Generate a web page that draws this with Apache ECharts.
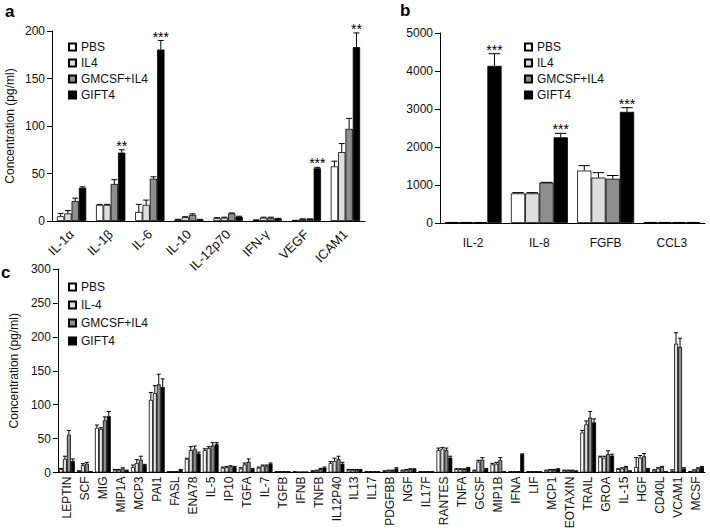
<!DOCTYPE html>
<html><head><meta charset="utf-8">
<script src="https://cdn.jsdelivr.net/npm/echarts@6/dist/echarts.min.js"></script>
<style>html,body{margin:0;padding:0;background:#fff}#c{width:710px;height:532px}</style>
</head><body><div id="c"></div><script>
// ---------- Panel a ----------
var catsA = ['IL-1\u03b1','IL-1\u03b2','IL-6','IL-10','IL-12p70','IFN-\u03b3','VEGF','ICAM1'];
var aPBS     = [5, 17, 9.5, 1.5, 3, 1, 0.5, 57.5];
var aPBSErr  = [3, 0.5, 8, 0.3, 0.5, 0.2, 0.2, 5.5];
var aIL4     = [8, 17, 17, 4, 3.5, 3.5, 2, 72.5];
var aIL4Err  = [3, 0.5, 5, 0.5, 0.5, 0.5, 0.3, 9];
var aGM      = [21, 39, 44.5, 6.5, 8, 3.5, 2, 97];
var aGMErr   = [3, 4.5, 2, 1, 0.5, 0.5, 0.3, 11];
var aGIFT    = [35, 72, 180.5, 1.5, 4.5, 2.5, 55.5, 183];
var aGIFTErr = [1, 3, 9.5, 0.3, 0.5, 0.3, 1, 15];
var aSig     = ['', '**', '***', '', '', '', '***', '**'];
var aTicks   = [0, 50, 100, 150, 200];

// ---------- Panel b ----------
var catsB = ['IL-2','IL-8','FGFB','CCL3'];
var bPBS     = [15, 780, 1380, 15];
var bPBSErr  = [0, 20, 130, 0];
var bIL4     = [15, 780, 1195, 15];
var bIL4Err  = [0, 20, 130, 0];
var bGM      = [15, 1065, 1165, 15];
var bGMErr   = [0, 5, 85, 0];
var bGIFT    = [4135, 2255, 2925, 15];
var bGIFTErr = [320, 105, 110, 0];
var bSig     = ['***', '***', '***', ''];
var bTicks   = [0, 1000, 2000, 3000, 4000, 5000];

// ---------- Panel c ----------
var catsC = ['LEPTIN','SCF','MIG','MIP1A','MCP3','PAI1','FASL','ENA78','IL-5','IP10','TGFA','IL-7','TGFB','IFNB','TNFB','IL12P40','IL13','IL17','PDGFBB','NGF','IL17F','RANTES','TNFA','GCSF','MIP1B','IFNA','LIF','MCP1','EOTAXIN','TRAIL','GROA','IL-15','HGF','CD40L','VCAM1','MCSF'];
var cPBS     = [5, 2, 66, 4, 8, 107, 1, 20, 33, 7, 6, 7, 1, 1, 2, 14, 4, 1, 2, 3, 1, 33, 5, 3, 12, 1, 1, 3, 3, 59, 23, 5, 8, 3, 2, 1];
var cPBSErr  = [1, 0.5, 4, 0.5, 3, 11, 0.2, 1, 2, 1, 1, 1, 0.2, 0.2, 0.5, 2, 0.5, 0.2, 0.5, 0.5, 0.2, 3, 0.5, 0.5, 1.5, 0.2, 0.2, 0.5, 0.5, 3, 1, 0.5, 14, 1, 2, 0.2];
var cIL4     = [20, 11, 64, 4, 14, 117, 1, 33, 36, 8, 12, 10, 1, 0.5, 3, 17, 4, 1, 3, 4, 1, 35, 5, 16, 13, 1, 1, 4, 3, 71, 22, 6, 22, 6, 190, 3];
var cIL4Err  = [4, 2, 2, 0.5, 5, 11, 0.2, 5, 2, 1, 2, 1, 0.2, 0.2, 0.5, 4, 0.5, 0.2, 0.5, 0.5, 0.2, 2, 0.5, 2, 2, 0.2, 0.2, 0.5, 0.5, 5, 2, 1, 3, 1, 16, 1];
var cGM      = [56, 13, 77, 6, 19, 130, 1, 35, 40, 9, 16, 10, 1, 0.5, 5, 20, 4, 1, 3, 5, 1, 33, 5, 19, 18, 1, 1, 4, 3, 81, 27, 8, 24, 8, 185, 6];
var cGMErr   = [6, 2, 5, 1, 5, 15, 0.2, 4, 4, 1, 4, 1, 0.2, 0.2, 1, 4, 0.5, 0.2, 0.5, 0.5, 0.2, 3, 0.5, 3, 4, 0.2, 0.2, 0.5, 0.5, 9, 5, 1, 4, 1, 13, 1];
var cGIFT    = [17, 1, 83, 3, 11, 126, 4, 28, 42, 8, 5, 13, 1, 0.5, 7, 13, 4, 1, 6, 5, 1, 22, 7, 5, 1, 27, 1, 5, 2, 74, 25, 2, 5, 1, 6, 8];
var cGIFTErr = [3, 0.2, 7, 0.5, 1, 12, 0.5, 2, 2, 1, 1, 1, 0.2, 0.2, 1, 2, 0.5, 0.2, 1, 0.5, 0.2, 2, 0.5, 1, 0.2, 0.5, 0.2, 0.5, 0.5, 5, 2, 0.5, 1, 0.2, 1, 1];
var cTicks   = [0, 50, 100, 150, 200, 250, 300];

var namesAB = ['PBS','IL4','GMCSF+IL4','GIFT4'];
var namesC  = ['PBS','IL-4','GMCSF+IL4','GIFT4'];
var fills   = ['#ffffff','#dedede','#8e8e8e','#000000'];
var FONT = 'Liberation Sans, Arial, Helvetica, sans-serif';

function errRender(k, n, gap) {
  return function (params, api) {
    var cat = api.value(0), v = api.value(1), e = api.value(2);
    var band = api.size([1, 0])[0];
    var bw = band * (1 - gap) / n;
    var base = api.coord([cat, v]);
    var top = api.coord([cat, v + e]);
    var x = base[0] + (k - (n - 1) / 2) * bw;
    var cap = Math.max(2, bw * 0.4);
    return { type: 'group', children: [
      { type: 'line', shape: { x1: x, y1: base[1], x2: x, y2: top[1] }, style: { stroke: '#000', lineWidth: 1 } },
      { type: 'line', shape: { x1: x - cap, y1: top[1], x2: x + cap, y2: top[1] }, style: { stroke: '#000', lineWidth: 1 } }
    ]};
  };
}
function sigRender(labels, n, gap) {
  return function (params, api) {
    var cat = api.value(0), y = api.value(1);
    var band = api.size([1, 0])[0];
    var bw = band * (1 - gap) / n;
    var p = api.coord([cat, y]);
    var x = p[0] + (n - 1 - (n - 1) / 2) * bw;
    return { type: 'text', style: { text: labels[params.dataIndex], x: x, y: p[1] + 3, align: 'center', verticalAlign: 'bottom', fill: '#000', fontSize: 14, fontFamily: FONT } };
  };
}

var series = [];
function addGroup(gi, names, vals, errs, sig, gap) {
  for (var k = 0; k < 4; k++) {
    series.push({ type: 'bar', name: names[k], xAxisIndex: gi, yAxisIndex: gi, data: vals[k],
      barGap: '0%', barCategoryGap: (gap * 100) + '%', silent: true,
      itemStyle: { color: fills[k], borderColor: '#000', borderWidth: 0.8 } });
  }
  for (var k2 = 0; k2 < 4; k2++) {
    var d = vals[k2].map(function (v, i) { return [i, v, errs[k2][i]]; });
    series.push({ type: 'custom', name: 'err' + gi + k2, xAxisIndex: gi, yAxisIndex: gi, silent: true, z: 5,
      renderItem: errRender(k2, 4, gap), data: d, encode: { x: 0, y: 1 } });
  }
  if (sig) {
    var labels = [], sd = [];
    sig.forEach(function (s, i) { if (s) { labels.push(s); sd.push([i, vals[3][i] + errs[3][i]]); } });
    series.push({ type: 'custom', name: 'sig' + gi, xAxisIndex: gi, yAxisIndex: gi, silent: true, z: 6,
      renderItem: sigRender(labels, 4, gap), data: sd, encode: { x: 0, y: 1 } });
  }
}
var gapA = 0.25, gapB = 0.14, gapC = 0.12;
addGroup(0, namesAB, [aPBS, aIL4, aGM, aGIFT], [aPBSErr, aIL4Err, aGMErr, aGIFTErr], aSig, gapA);
addGroup(1, namesAB, [bPBS, bIL4, bGM, bGIFT], [bPBSErr, bIL4Err, bGMErr, bGIFTErr], bSig, gapB);
addGroup(2, namesC, [cPBS, cIL4, cGM, cGIFT], [cPBSErr, cIL4Err, cGMErr, cGIFTErr], null, gapC);

function yAx(gi, ticks, name) {
  return { type: 'value', gridIndex: gi, min: ticks[0], max: ticks[ticks.length - 1], interval: ticks[1] - ticks[0],
    splitLine: { show: false },
    axisLine: { show: true, lineStyle: { color: '#000', width: 1 } },
    axisTick: { show: true, length: 5, lineStyle: { color: '#000' } },
    axisLabel: { color: '#111', fontSize: 12, fontFamily: FONT, margin: 7, formatter: function (v) { return String(v); } },
    name: name || '', nameLocation: 'middle', nameGap: 36,
    nameTextStyle: { color: '#111', fontSize: 12, fontFamily: FONT } };
}
function xAx(gi, cats, lbl) {
  return { type: 'category', gridIndex: gi, data: cats,
    axisLine: { show: true, lineStyle: { color: '#000', width: 1 } },
    axisTick: { show: false },
    axisLabel: Object.assign({ color: '#111', fontSize: 12, fontFamily: FONT, interval: 0 }, lbl) };
}
function leg(names, left, top, gap) {
  return { data: names, orient: 'vertical', left: left, top: top, itemWidth: 7, itemHeight: 7, itemGap: gap,
    icon: 'rect', selectedMode: false,
    textStyle: { color: '#111', fontSize: 12, fontFamily: FONT } };
}

var option = {
  animation: false,
  grid: [
    { left: 52, top: 31, width: 313, height: 190 },
    { left: 440, top: 33, width: 265, height: 190 },
    { left: 52, top: 269, width: 653, height: 203.5 }
  ],
  xAxis: [
    xAx(0, catsA, { rotate: 45, margin: 11, fontSize: 13 }),
    xAx(1, catsB, { margin: 14 }),
    xAx(2, catsC, { rotate: 90, margin: 4 })
  ],
  yAxis: [
    yAx(0, aTicks, 'Concentration (pg/ml)'),
    yAx(1, bTicks),
    yAx(2, cTicks, 'Concentration (pg/ml)')
  ],
  legend: [
    leg(namesAB, 63, 36, 4),
    leg(namesAB, 519, 36, 4),
    leg(namesC, 63, 276, 6)
  ],
  graphic: [
    { type: 'text', left: 5, top: 3, style: { text: 'a', fontSize: 17, fontWeight: 'bold', fontFamily: FONT, fill: '#000' } },
    { type: 'text', left: 400, top: 2, style: { text: 'b', fontSize: 17, fontWeight: 'bold', fontFamily: FONT, fill: '#000' } },
    { type: 'text', left: 1, top: 264, style: { text: 'c', fontSize: 17, fontWeight: 'bold', fontFamily: FONT, fill: '#000' } }
  ],
  series: series
};
var chart = echarts.init(document.getElementById('c'), null, { renderer: 'svg' });
chart.setOption(option);
</script></body></html>
